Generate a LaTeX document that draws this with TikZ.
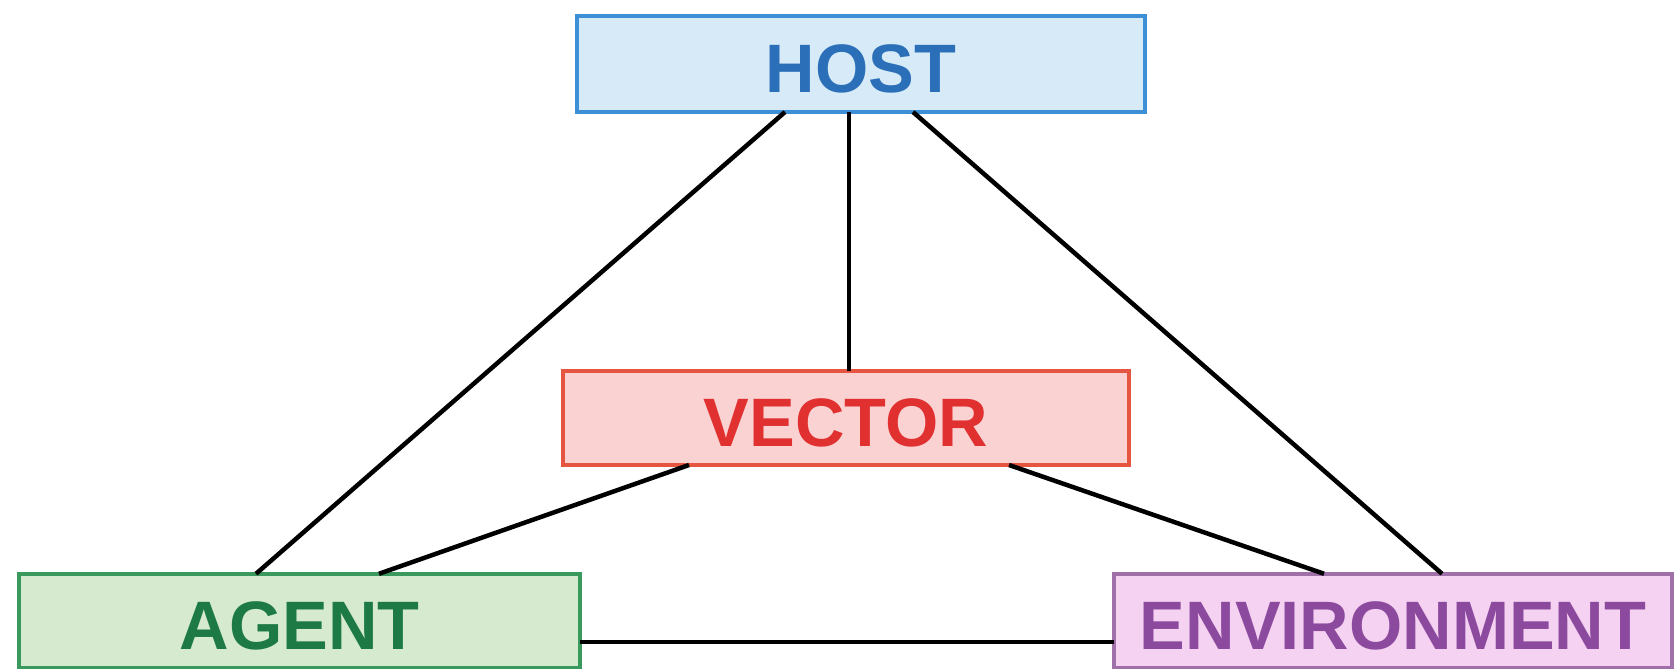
\documentclass[tikz,border=0pt]{standalone}
\usepackage{fontspec}
\setmainfont{Liberation Sans}
\usepackage{tikz}
\usetikzlibrary{positioning}
\usepackage{xcolor}

\definecolor{hostfill}{HTML}{D6EAF8}
\definecolor{hostline}{HTML}{3D8FD6}
\definecolor{hosttext}{HTML}{2A6FB8}
\definecolor{vecfill}{HTML}{FAD2D2}
\definecolor{vecline}{HTML}{E6553F}
\definecolor{vectext}{HTML}{E03030}
\definecolor{agfill}{HTML}{D6EACF}
\definecolor{agline}{HTML}{3A9A5E}
\definecolor{agtext}{HTML}{1D7A45}
\definecolor{envfill}{HTML}{F6D2F2}
\definecolor{envline}{HTML}{A070A8}
\definecolor{envtext}{HTML}{8C4A9E}

\tikzset{
  triadbox/.style={draw, line width=0.035cm, inner sep=0pt, outer sep=0pt,
    minimum height=0.94cm, text height=0.58cm,
    font=\fontsize{19.5}{20}\selectfont\bfseries},
  link/.style={black, line width=0.045cm}
}

\begin{document}
\begin{tikzpicture}
\useasboundingbox (0,0) rectangle (16.75,6.69);

%\draw[gray,very thin, step=0.5cm, opacity=0.5] (0,0) grid (16.75,6.69);

% boxes
\node[triadbox, fill=hostfill, draw=hostline, text=hosttext, minimum width=5.68cm, minimum height=0.96cm] (host) at (8.61,6.05) {HOST};
\node[triadbox, fill=vecfill, draw=vecline, text=vectext, minimum width=5.66cm] (vector) at (8.46,2.51) {VECTOR};
\node[triadbox, fill=agfill, draw=agline, text=agtext, minimum width=5.61cm, minimum height=0.935cm] (agent) at (2.995,0.485) {AGENT};
\node[triadbox, fill=envfill, draw=envline, text=envtext, minimum width=5.58cm, minimum height=0.935cm] (env) at (13.93,0.485) {ENVIRONMENT};

% links from host
\draw[link] ([xshift=-0.76cm]host.south) -- ([xshift=-0.435cm]agent.north);
\draw[link] ([xshift=-0.12cm]host.south) -- ([xshift=-0.12cm]host.south |- vector.north);
\draw[link] ([xshift=0.52cm]host.south) -- ([xshift=0.49cm]env.north);

% links from vector
\draw[link] ([xshift=-1.57cm]vector.south) -- ([xshift=0.795cm]agent.north);
\draw[link] ([xshift=1.63cm]vector.south) -- ([xshift=-0.69cm]env.north);

% bottom
\draw[link] ([yshift=-0.215cm]agent.east) -- ([yshift=-0.215cm]env.west);

\end{tikzpicture}
\end{document}
